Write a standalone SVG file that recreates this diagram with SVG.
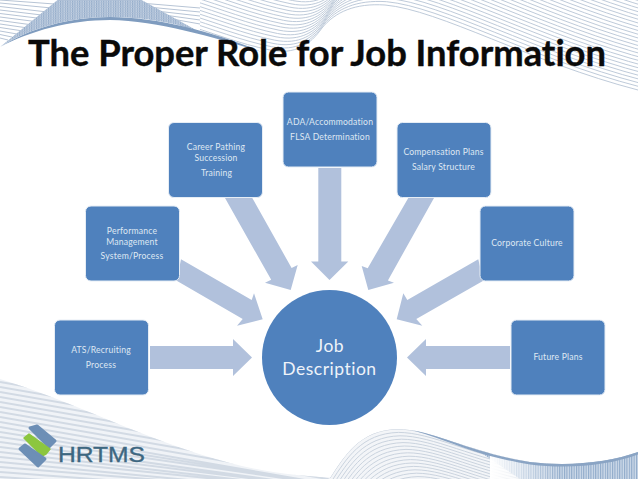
<svg xmlns="http://www.w3.org/2000/svg" xmlns:xlink="http://www.w3.org/1999/xlink" width="638" height="479" viewBox="0 0 638 479">
<style>
.box{fill:#4f81bd;stroke:#e6edf5;stroke-width:1}
.arrow{fill:#b1c1dc}
.lbl{font-family:"Lato","Open Sans","Liberation Sans",sans-serif;font-size:8.6px;fill:#dfe8f3;text-anchor:middle;letter-spacing:.2px;font-variant-ligatures:none}
.big{font-family:"Lato","Open Sans","Liberation Sans",sans-serif;font-size:17.5px;fill:#eef3f9;text-anchor:middle;letter-spacing:.5px}
.w{fill:none;stroke:#b7c4d5;stroke-width:.9}
.f{fill:none;stroke:#cad3de;stroke-width:1}
</style>
<defs>
<pattern id="mesh" width="2.4" height="2.4" patternUnits="userSpaceOnUse"><rect width="2.4" height="2.4" fill="#c4d2e3"/><rect width="1.1" height="2.4" fill="#93abc9"/><rect width="2.4" height=".8" fill="#aebfd6"/></pattern>
<pattern id="mesh2" width="2.4" height="4" patternUnits="userSpaceOnUse"><rect width="2.4" height="4" fill="#cfdbe9"/><rect width="1.1" height="4" fill="#8faac9"/></pattern>
<linearGradient id="fadeL" x1="0" y1="0" x2="1" y2="0"><stop offset="0" stop-color="#fff" stop-opacity="1"/><stop offset="1" stop-color="#fff" stop-opacity="0"/></linearGradient>
<path id="c" class="w" d="M180,23 C210,32 240,44 270,50 C295,55 310,45 322,28 C335,12 355,3 385,5 C440,10 530,62 638,90"/>
<path id="b" class="f" d="M330,478 C345,455 360,430 397,429 C430,429 470,452 530,462 C570,467 610,462 638,452"/>
<clipPath id="bl"><path d="M0,379 C70,400 150,442 230,463 C265,472 300,477 345,478 L345,479 L0,479 Z"/></clipPath>
<clipPath id="br"><path d="M328,479 L330,478 C345,455 360,430 397,429 C430,429 470,452 530,462 C570,467 610,462 638,452 L638,479 Z"/></clipPath>
<clipPath id="tl"><path d="M0,0 L200,0 L200,32 C170,22 140,17 110,17 C70,17 30,28 0,47 Z"/></clipPath>
</defs>

<g id="background">
<g id="wave-top">
<use href="#c"/><use href="#c" transform="translate(1.5,-3.3)"/><use href="#c" transform="translate(3,-6.6)"/><use href="#c" transform="translate(4.5,-9.9)"/><use href="#c" transform="translate(6,-13.2)"/><use href="#c" transform="translate(7.5,-16.5)"/><use href="#c" transform="translate(9,-19.8)"/><use href="#c" transform="translate(10.5,-23.1)"/><use href="#c" transform="translate(12,-26.4)"/><use href="#c" transform="translate(13.5,-29.7)"/><use href="#c" transform="translate(15,-33)"/><use href="#c" transform="translate(16.5,-36.3)"/><use href="#c" transform="translate(18,-39.6)"/><use href="#c" transform="translate(19.5,-42.9)"/><use href="#c" transform="translate(21,-46.2)"/><use href="#c" transform="translate(22.5,-49.5)"/><use href="#c" transform="translate(24,-52.8)"/><use href="#c" transform="translate(25.5,-56.1)"/><use href="#c" transform="translate(27,-59.4)"/><use href="#c" transform="translate(28.5,-62.7)"/><use href="#c" transform="translate(30,-66)"/><use href="#c" transform="translate(31.5,-69.3)"/><use href="#c" transform="translate(33,-72.6)"/><use href="#c" transform="translate(34.5,-75.9)"/><use href="#c" transform="translate(36,-79.2)"/><use href="#c" transform="translate(37.5,-82.5)"/><use href="#c" transform="translate(39,-85.8)"/><use href="#c" transform="translate(40.5,-89.1)"/>
<g clip-path="url(#tl)">
<path d="M0,0H200V60H0Z" fill="#fff"/>
<path d="M0,3 L62,9 M0,6.5 L56,13 M0,10 L50,16 M0,13.5 L45,19 M0,17 L39,22 M0,20.5 L33,25 M0,24 L28,28 M0,27.5 L23,31 M0,31 L17,34 M0,34.5 L12,37 M0,38 L8,40 M0,0 L68,5 M140,3 L200,8 M148,7 L200,12 M156,11 L200,16 M164,15 L200,20 M172,19 L200,24" fill="none" stroke="#b7c4d5" stroke-width="1"/>
<path d="M0,47 L60,-2 L138,-2 L196,30 C170,22 140,17 110,17 C70,17 30,28 0,47 Z" fill="url(#mesh)"/>
</g>
<path d="M0,47 C30,28 70,17 110,17 C160,17 220,34 262,52 C220,39 160,21 110,20 C70,20 30,31 0,47 Z" fill="#7f9cbf"/>
</g>
<g id="wave-bottom">
<g clip-path="url(#bl)">
<rect x="0" y="370" width="345" height="109" fill="#f0f3f7"/>
<path d="M0,372 L345,432 M0,377 L345,437 M0,382 L345,442 M0,387 L345,447 M0,392 L345,452 M0,397 L345,457 M0,402 L345,462 M0,407 L345,467 M0,412 L345,472 M0,417 L345,477 M0,422 L345,482 M0,427 L345,487 M0,432 L345,487 M0,437 L345,487 M0,442 L345,490 M0,447 L345,490 M0,452 L345,492 M0,457 L345,492 M0,462 L345,495 M0,467 L345,495 M0,472 L345,498 M0,477 L345,500" fill="none" stroke="#d2dae4" stroke-width="2"/>
</g>
<g clip-path="url(#br)">
<rect x="328" y="425" width="310" height="54" fill="#f3f5f8"/>
<use href="#b"/><use href="#b" transform="translate(1.5,3.4)"/><use href="#b" transform="translate(3,6.8)"/><use href="#b" transform="translate(4.5,10.2)"/><use href="#b" transform="translate(6,13.6)"/><use href="#b" transform="translate(7.5,17)"/><use href="#b" transform="translate(9,20.4)"/><use href="#b" transform="translate(10.5,23.8)"/><use href="#b" transform="translate(12,27.2)"/><use href="#b" transform="translate(13.5,30.6)"/><use href="#b" transform="translate(15,34)"/><use href="#b" transform="translate(16.5,37.4)"/><use href="#b" transform="translate(18,40.8)"/><use href="#b" transform="translate(19.5,44.2)"/><use href="#b" transform="translate(21,47.6)"/>
<path d="M480,452 C500,458 515,460 530,462 C570,467 610,462 638,452 L638,479 L520,479 Z" fill="url(#mesh2)"/>
<rect x="490" y="445" width="70" height="34" fill="url(#fadeL)"/>
</g>
<path d="M410,430 C440,434 470,452 530,462 C570,467 610,462 638,452 L638,454.5 C610,465 570,469.5 530,464.5 C470,455 440,436 410,430 Z" fill="#8aa4c4"/>
</g>
</g>

<text id="title" x="28" y="66" font-family="Lato,'Open Sans','Liberation Sans',sans-serif" font-weight="700" font-size="37" fill="#0a0a0a" stroke="#0a0a0a" stroke-width=".4" style="font-variant-ligatures:none" textLength="578" lengthAdjust="spacingAndGlyphs">The Proper Role for Job Information</text>

<g id="connectors">
<polygon class="arrow" points="150,346 233,346 233,339 252,357.5 233,376 233,369 150,369"/>
<polygon class="arrow" points="510,346 426,346 426,339 407,357.5 426,376 426,369 510,369"/>
<polygon class="arrow" points="181,259.3 251.7,300 254,293.3 262.7,319.3 237,325.7 242.7,319 176.7,280.7"/>
<polygon class="arrow" points="478.3,259.3 407.3,300 403.3,293.3 396.7,319.3 422.3,325.7 416.3,319 483.3,280.7"/>
<polygon class="arrow" points="225,198 252.3,198 291.6,268 297.7,265 290.7,290 265,282.7 271.2,279.8"/>
<polygon class="arrow" points="434,198 408.3,198 367.7,268.2 361.7,266 368.3,290 394,282.7 387.9,280.4"/>
<polygon class="arrow" points="318.3,168 341.3,168 341.3,261.5 348.3,261.5 329.5,280 311,261.5 318.3,261.5"/>
</g>

<g id="node-ats"><rect class="box" x="54.5" y="320" width="94" height="75" rx="5.5"/><text class="lbl" x="101" y="353">ATS/Recruiting</text><text class="lbl" x="101" y="368">Process</text></g>
<g id="node-performance"><rect class="box" x="85.5" y="206" width="94" height="75" rx="5.5"/><text class="lbl" x="132" y="234">Performance</text><text class="lbl" x="132" y="245">Management</text><text class="lbl" x="132" y="259">System/Process</text></g>
<g id="node-career"><rect class="box" x="168.5" y="122.5" width="94" height="75" rx="5.5"/><text class="lbl" x="216" y="150">Career Pathing</text><text class="lbl" x="216" y="161">Succession</text><text class="lbl" x="216.5" y="176">Training</text></g>
<g id="node-ada"><rect class="box" x="283" y="92" width="94" height="75" rx="5.5"/><text class="lbl" x="330" y="125">ADA/Accommodation</text><text class="lbl" x="330" y="140">FLSA Determination</text></g>
<g id="node-compensation"><rect class="box" x="397" y="122.5" width="94" height="75" rx="5.5"/><text class="lbl" x="443.5" y="155">Compensation Plans</text><text class="lbl" x="443.5" y="170">Salary Structure</text></g>
<g id="node-culture"><rect class="box" x="480" y="206" width="94" height="75" rx="5.5"/><text class="lbl" x="527" y="246">Corporate Culture</text></g>
<g id="node-future"><rect class="box" x="511" y="320" width="94" height="75" rx="5.5"/><text class="lbl" x="558" y="360">Future Plans</text></g>
<g id="node-job"><circle cx="329.5" cy="357.5" r="67.5" fill="#4f81bd"/><text class="big" x="330" y="352">Job</text><text class="big" x="329.5" y="375">Description</text></g>

<g id="logo">
<polygon points="30,428 37,426 55,441 49,447" fill="#6d8fb6" stroke="#6d8fb6" stroke-width="3" stroke-linejoin="round"/>
<polygon points="24,438 29,434 50,449 46,454 42,456" fill="#8cc63f" stroke="#8cc63f" stroke-width="1.5" stroke-linejoin="round"/>
<polygon points="20,449 25,445 45,459 38,466" fill="#6d8fb6" stroke="#6d8fb6" stroke-width="3" stroke-linejoin="round"/>
<text x="58" y="461.5" font-family="'Liberation Sans',Arial,sans-serif" font-size="21.5" fill="#3d6781" stroke="#3d6781" stroke-width=".35" textLength="87" lengthAdjust="spacingAndGlyphs">HRTMS</text>
</g>
</svg>
